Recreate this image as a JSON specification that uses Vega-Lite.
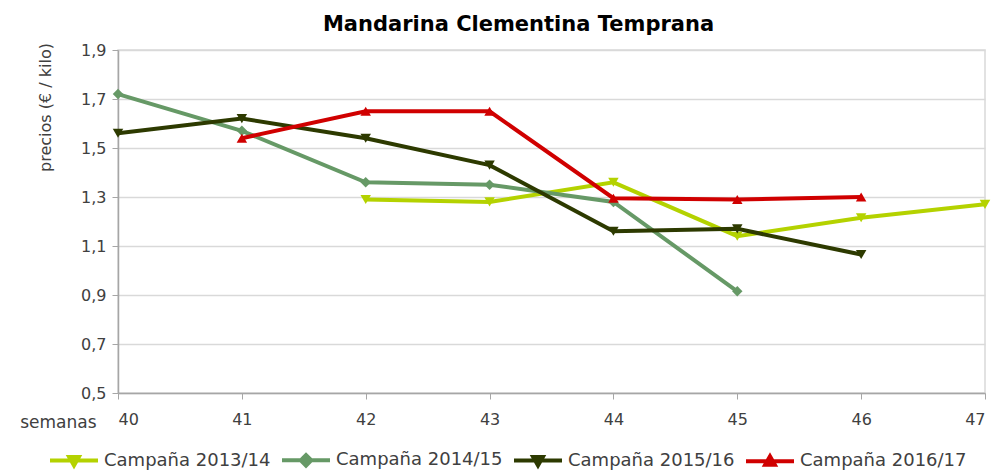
{
  "$schema": "https://vega.github.io/schema/vega-lite/v6.json",
  "width": 867,
  "height": 343,
  "autosize": {"type": "none"},
  "padding": {"left": 118, "top": 50, "right": 11, "bottom": 80},
  "background": "white",
  "config": {
    "font": "DejaVu Sans",
    "view": {"stroke": "#d9d9d9", "strokeWidth": 1.5},
    "axis": {"labelFont": "DejaVu Sans", "titleFont": "DejaVu Sans", "labelColor": "#404040", "titleColor": "#404040"}
  },
  "title": {
    "text": "Mandarina Clementina Temprana",
    "fontSize": 21,
    "fontWeight": "bold",
    "font": "DejaVu Sans",
    "color": "#000000",
    "anchor": "middle",
    "dx": -33,
    "offset": -14,
    "baseline": "bottom"
  },
  "data": {
    "values": [
      {"semana": 42, "precio": 1.29, "serie": "Campaña 2013/14"},
      {"semana": 43, "precio": 1.28, "serie": "Campaña 2013/14"},
      {"semana": 44, "precio": 1.36, "serie": "Campaña 2013/14"},
      {"semana": 45, "precio": 1.14, "serie": "Campaña 2013/14"},
      {"semana": 46, "precio": 1.215, "serie": "Campaña 2013/14"},
      {"semana": 47, "precio": 1.27, "serie": "Campaña 2013/14"},
      {"semana": 40, "precio": 1.72, "serie": "Campaña 2014/15"},
      {"semana": 41, "precio": 1.57, "serie": "Campaña 2014/15"},
      {"semana": 42, "precio": 1.36, "serie": "Campaña 2014/15"},
      {"semana": 43, "precio": 1.35, "serie": "Campaña 2014/15"},
      {"semana": 44, "precio": 1.28, "serie": "Campaña 2014/15"},
      {"semana": 45, "precio": 0.915, "serie": "Campaña 2014/15"},
      {"semana": 40, "precio": 1.56, "serie": "Campaña 2015/16"},
      {"semana": 41, "precio": 1.62, "serie": "Campaña 2015/16"},
      {"semana": 42, "precio": 1.54, "serie": "Campaña 2015/16"},
      {"semana": 43, "precio": 1.43, "serie": "Campaña 2015/16"},
      {"semana": 44, "precio": 1.16, "serie": "Campaña 2015/16"},
      {"semana": 45, "precio": 1.17, "serie": "Campaña 2015/16"},
      {"semana": 46, "precio": 1.065, "serie": "Campaña 2015/16"},
      {"semana": 41, "precio": 1.54, "serie": "Campaña 2016/17"},
      {"semana": 42, "precio": 1.65, "serie": "Campaña 2016/17"},
      {"semana": 43, "precio": 1.65, "serie": "Campaña 2016/17"},
      {"semana": 44, "precio": 1.295, "serie": "Campaña 2016/17"},
      {"semana": 45, "precio": 1.29, "serie": "Campaña 2016/17"},
      {"semana": 46, "precio": 1.30, "serie": "Campaña 2016/17"}
    ]
  },
  "encoding": {
    "x": {
      "field": "semana",
      "type": "quantitative",
      "scale": {"domain": [40, 47], "nice": false, "zero": false},
      "axis": {
        "values": [40, 41, 42, 43, 44, 45, 46, 47],
        "format": "d",
        "grid": false,
        "domainColor": "#a6a6a6",
        "domainWidth": 1.5,
        "tickColor": "#a6a6a6",
        "tickSize": 6,
        "labelFontSize": 16,
        "labelPadding": 12,
        "title": "semanas",
        "titleFontSize": 17,
        "titleFontWeight": "normal",
        "titleAlign": "right",
        "titleAnchor": "start",
        "titleBaseline": "middle",
        "titleX": -22,
        "titleY": 29
      }
    },
    "y": {
      "field": "precio",
      "type": "quantitative",
      "scale": {"domain": [0.5, 1.9], "nice": false, "zero": false},
      "axis": {
        "values": [0.5, 0.7, 0.9, 1.1, 1.3, 1.5, 1.7, 1.9],
        "labelExpr": "replace(format(datum.value, '.1f'), '.', ',')",
        "gridColor": "#d9d9d9",
        "gridWidth": 1.5,
        "domainColor": "#a6a6a6",
        "domainWidth": 1.5,
        "tickColor": "#a6a6a6",
        "tickSize": 6,
        "labelFontSize": 16,
        "labelPadding": 6,
        "title": "precios (€ / kilo)",
        "titleFontSize": 16,
        "titleFontWeight": "normal",
        "titleAngle": 270,
        "titleAlign": "center",
        "titleBaseline": "middle",
        "titleX": -73,
        "titleY": 57
      }
    },
    "color": {
      "field": "serie",
      "type": "nominal",
      "scale": {
        "domain": ["Campaña 2013/14", "Campaña 2014/15", "Campaña 2015/16", "Campaña 2016/17"],
        "range": ["#b4d200", "#669966", "#2d3a00", "#d00000"]
      },
      "legend": {
        "orient": "none",
        "legendX": -70,
        "legendY": 384,
        "direction": "horizontal",
        "title": null,
        "labelFontSize": 18,
        "labelFont": "DejaVu Sans",
        "labelColor": "#404040",
        "labelLimit": 400,
        "symbolSize": 2304,
        "symbolStrokeWidth": 4,
        "columnPadding": 3,
        "labelOffset": 4,
        "encode": {
          "symbols": {
            "update": {
              "shape": {"signal": "datum.value === 'Campaña 2014/15' ? 'M-1,0H1M-0.22,0L0,-0.22L0.22,0L0,0.22Z' : (datum.value === 'Campaña 2016/17' ? 'M-1,0H1M-0.2,0.15L0.2,0.15L0,-0.2Z' : 'M-1,0H1M-0.2,-0.15L0.2,-0.15L0,0.2Z')"},
              "fill": {"scale": "color", "field": "value"},
              "stroke": {"scale": "color", "field": "value"},
              "strokeWidth": {"value": 4},
              "opacity": {"value": 1},
              "fillOpacity": {"value": 1},
              "strokeOpacity": {"value": 1}
            }
          }
        }
      }
    }
  },
  "layer": [
    {
      "mark": {"type": "line", "strokeWidth": 4},
      "encoding": {"detail": {"field": "serie"}}
    },
    {
      "transform": [{"filter": "datum.serie === 'Campaña 2013/14' || datum.serie === 'Campaña 2015/16'"}],
      "mark": {"type": "point", "filled": true, "opacity": 1, "size": 110, "shape": "triangle-down"}
    },
    {
      "transform": [{"filter": "datum.serie === 'Campaña 2014/15'"}],
      "mark": {"type": "point", "filled": true, "opacity": 1, "size": 110, "shape": "diamond"}
    },
    {
      "transform": [{"filter": "datum.serie === 'Campaña 2016/17'"}],
      "mark": {"type": "point", "filled": true, "opacity": 1, "size": 110, "shape": "triangle-up"}
    }
  ]
}
